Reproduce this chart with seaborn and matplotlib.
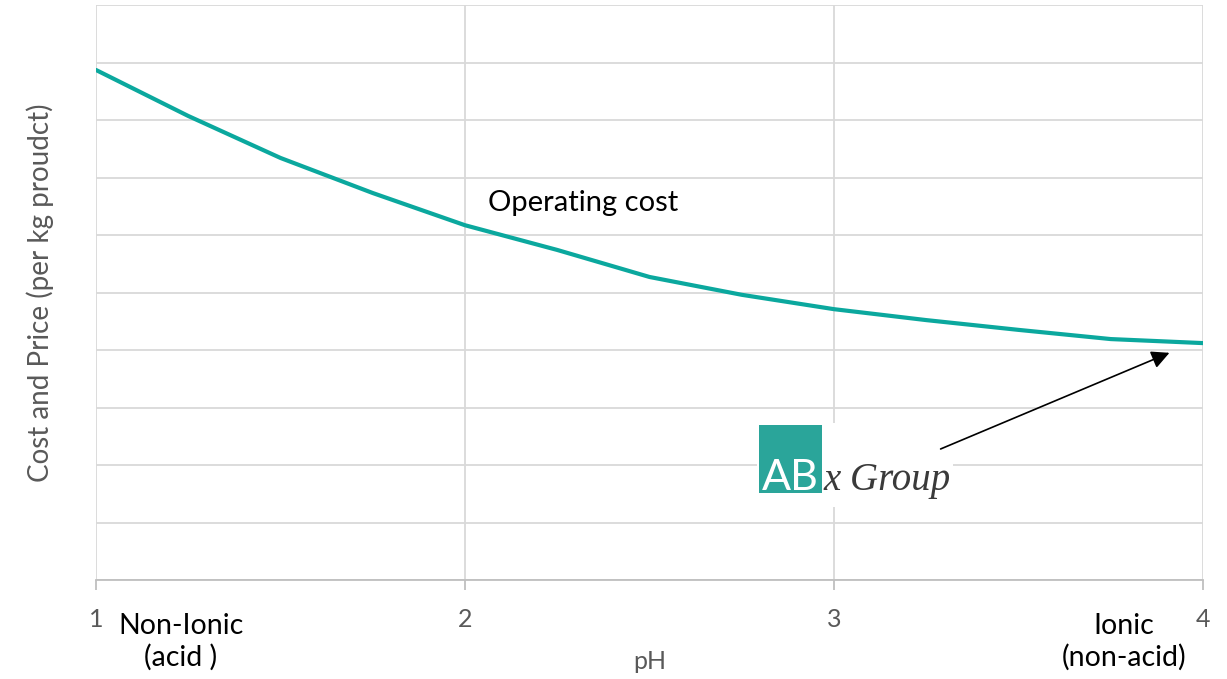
import matplotlib
matplotlib.use("Agg")
import matplotlib.pyplot as plt
from matplotlib.patches import Rectangle
import seaborn as sns
import pandas as pd

# Operating cost against pH
ph = [1.0, 1.25, 1.5, 1.75, 2.0, 2.25, 2.5, 2.75, 3.0, 3.25, 3.5, 3.75, 4.0]
operating_cost = [8.87, 8.07, 7.34, 6.73, 6.17, 5.74, 5.27, 4.96, 4.71, 4.52, 4.35, 4.19, 4.12]
x_ticks = [1, 2, 3, 4]

df = pd.DataFrame({"pH": ph, "cost": operating_cost})

sns.set_theme(style="whitegrid")
plt.rcParams["font.family"] = ["Lato", "DejaVu Sans"]

fig = plt.figure(figsize=(12.27, 6.79), dpi=100)
ax = fig.add_axes([96 / 1227, 99 / 679, 1107 / 1227, 575 / 679])

teal = "#0BA89E"
sns.lineplot(data=df, x="pH", y="cost", ax=ax, color=teal, linewidth=3.0, zorder=4)

ax.set_xlim(1, 4)
ax.set_ylim(0, 10)
ax.set_xticks(x_ticks)
ax.set_xticklabels([str(t) for t in x_ticks])
ax.set_yticks(range(0, 11))
ax.set_yticklabels([])
ax.grid(True, color="#D9D9D9", linewidth=1.3)
ax.set_axisbelow(True)
for side in ["top", "right", "left"]:
    ax.spines[side].set_visible(False)
ax.spines["bottom"].set_color("#BFBFBF")
ax.spines["bottom"].set_linewidth(1.3)
ax.tick_params(axis="x", bottom=True, length=7, width=1.3, color="#BFBFBF",
               labelsize=18, labelcolor="#595959", pad=13)
ax.tick_params(axis="y", left=False, length=0)

ax.set_xlabel("pH", fontsize=18, color="#595959", labelpad=14)
ax.set_ylabel("Cost and Price (per kg proudct)", fontsize=20, color="#595959", labelpad=27)

# curve and end-point labels
ax.text(2.062, 6.56, "Operating cost", fontsize=21, color="black", va="center", ha="left")
ax.text(1.23, -1.08, "Non-Ionic\n(acid )", fontsize=20.5, color="black", va="center",
        ha="center", linespacing=1.2, clip_on=False)
ax.text(3.786, -1.08, "Ionic\n(non-acid)", fontsize=20.5, color="black", va="center",
        ha="center", linespacing=1.2, clip_on=False)

# company mark
ax.add_patch(Rectangle((2.791, 1.27), 0.531, 1.46, facecolor="white",
                       edgecolor="none", zorder=5))
ax.add_patch(Rectangle((2.797, 1.513), 0.170, 1.183, facecolor="#2AA59A",
                       edgecolor="none", zorder=6))
ax.text(2.882, 1.56, "AB", fontsize=31, color="white", fontweight="normal",
        ha="center", va="baseline", zorder=7)
ax.text(2.972, 1.56, "x Group", fontsize=28, color="#3A3A3A", style="italic",
        family="Liberation Serif", ha="left", va="baseline", zorder=7)

# pointer arrow
ax.annotate("", xy=(3.916, 3.97), xytext=(3.282, 2.26),
            arrowprops=dict(arrowstyle="-|>,head_length=0.9,head_width=0.45",
                            color="black", lw=1.2), zorder=8)

fig.savefig("out.png", dpi=100)
